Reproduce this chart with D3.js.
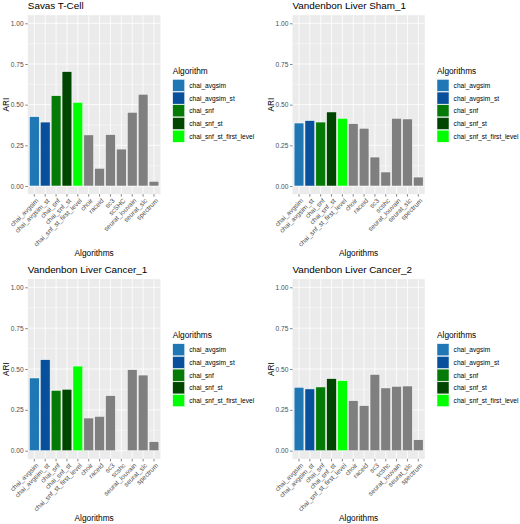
<!DOCTYPE html>
<html>
<head>
<meta charset="utf-8">
<script src="https://cdn.jsdelivr.net/npm/d3@7"></script>
<style>
  html, body { margin: 0; padding: 0; background: #fff; }
  svg { display: block; font-family: "Liberation Sans", Arial, Helvetica, sans-serif; }
</style>
</head>
<body>
<svg id="chart" width="520" height="524"></svg>
<script>
// ---------------- data ----------------
const categoriesSavas = ["chai_avgsim", "chai_avgsim_st", "chai_snf", "chai_snf_st", "chai_snf_st_first_level",
  "choir", "raceid", "sc3", "scSHC", "seurat_louvain", "seurat_slc", "spectrum"];
const categoriesVandenbon = ["chai_avgsim", "chai_avgsim_st", "chai_snf", "chai_snf_st", "chai_snf_st_first_level",
  "choir", "raceid", "sc3", "scshc", "seurat_louvain", "seurat_slc", "spectrum"];

const ariSavas    = [0.426, 0.393, 0.555, 0.703, 0.514, 0.314, 0.109, 0.316, 0.227, 0.453, 0.564, 0.029];
const ariSham1    = [0.387, 0.402, 0.393, 0.455, 0.416, 0.383, 0.355, 0.178, 0.086, 0.416, 0.412, 0.055];
const ariCancer1  = [0.445, 0.557, 0.369, 0.376, 0.518, 0.200, 0.210, 0.337, null,  0.496, 0.463, 0.055];
const ariCancer2  = [0.388, 0.378, 0.390, 0.441, 0.429, 0.306, 0.276, 0.467, 0.384, 0.394, 0.396, 0.067];

const panelTitles = ["Savas T-Cell", "Vandenbon Liver Sham_1", "Vandenbon Liver Cancer_1", "Vandenbon Liver Cancer_2"];
const legendTitles = ["Algorithm", "Algorithms", "Algorithms", "Algorithms"];
const legendKeys = ["chai_avgsim", "chai_avgsim_st", "chai_snf", "chai_snf_st", "chai_snf_st_first_level"];
const legendColors = ["#1f77b4", "#08509b", "#067a06", "#004600", "#00ff00"];
const otherColor = "#7f7f7f";
const yTicks = [0, 0.25, 0.5, 0.75, 1];
const yMinorTicks = [0.125, 0.375, 0.625, 0.875];
const xTitle = "Algorithms";
const yTitle = "ARI";

// ---------------- layout ----------------
const panels = [
  { cats: categoriesSavas,     vals: ariSavas,   left: 27.8,  right: 160.5, y0: 186.0, y1: 23.3 },
  { cats: categoriesVandenbon, vals: ariSham1,   left: 292.5, right: 424.8, y0: 186.0, y1: 23.3 },
  { cats: categoriesVandenbon, vals: ariCancer1, left: 27.8,  right: 160.5, y0: 450.7, y1: 287.3 },
  { cats: categoriesVandenbon, vals: ariCancer2, left: 292.5, right: 424.8, y0: 450.7, y1: 287.3 }
];

const svg = d3.select("#chart");
const colorScale = d3.scaleOrdinal().domain(legendKeys).range(legendColors).unknown(otherColor);

const axisTextSize = 6.6, titleSize = 8.3, plotTitleSize = 9.9;
const tickLen = 2.5;

panels.forEach((p, i) => {
  const span = p.y0 - p.y1;
  const top = p.y1 - 0.05 * span, bottom = p.y0 + 0.05 * span;
  const x = d3.scaleBand().domain(p.cats).range([p.left, p.right]).paddingInner(0.1).paddingOuter(0.15);
  const y = d3.scaleLinear().domain([-0.05, 1.05]).range([bottom, top]);
  const g = svg.append("g");

  // panel background
  g.append("rect").attr("x", p.left).attr("y", top).attr("width", p.right - p.left).attr("height", bottom - top)
    .attr("fill", "#ebebeb");
  // minor grid
  g.selectAll(".minor").data(yMinorTicks).join("line")
    .attr("x1", p.left).attr("x2", p.right).attr("y1", d => y(d)).attr("y2", d => y(d))
    .attr("stroke", "#fff").attr("stroke-width", 0.4);
  // major grid
  g.selectAll(".majorY").data(yTicks).join("line")
    .attr("x1", p.left).attr("x2", p.right).attr("y1", d => y(d)).attr("y2", d => y(d))
    .attr("stroke", "#fff").attr("stroke-width", 0.8);
  g.selectAll(".majorX").data(p.cats).join("line")
    .attr("x1", d => x(d) + x.bandwidth() / 2).attr("x2", d => x(d) + x.bandwidth() / 2)
    .attr("y1", top).attr("y2", bottom)
    .attr("stroke", "#fff").attr("stroke-width", 0.8);

  // bars
  const rows = p.cats.map((c, k) => ({ cat: c, v: p.vals[k] })).filter(d => d.v !== null);
  g.selectAll(".bar").data(rows).join("rect")
    .attr("x", d => x(d.cat)).attr("width", x.bandwidth())
    .attr("y", d => y(d.v)).attr("height", d => y(0) - y(d.v))
    .attr("fill", d => colorScale(d.cat))
    .attr("stroke", "#fff").attr("stroke-width", 0.5);

  // y axis
  const yAxis = d3.axisLeft(y).tickValues(yTicks).tickFormat(d3.format(".2f")).tickSize(tickLen).tickPadding(1.6);
  const ya = g.append("g").attr("transform", `translate(${p.left},0)`).call(yAxis);
  ya.select(".domain").remove();
  ya.selectAll(".tick line").attr("stroke", "#333").attr("stroke-width", 0.6);
  ya.selectAll(".tick text").attr("fill", "#4d4d4d").attr("font-size", axisTextSize).attr("font-family", null);

  // x axis
  const xAxis = d3.axisBottom(x).tickSize(tickLen).tickPadding(0);
  const xa = g.append("g").attr("transform", `translate(0,${bottom})`).call(xAxis);
  xa.select(".domain").remove();
  xa.selectAll(".tick line").attr("stroke", "#333").attr("stroke-width", 0.6);
  xa.selectAll(".tick text")
    .attr("fill", "#4d4d4d").attr("font-size", axisTextSize).attr("font-family", null)
    .attr("text-anchor", "end").attr("y", 0).attr("dy", "0.72em")
    .attr("transform", `translate(1.2,${tickLen + 1.2}) rotate(-45)`);

  // titles
  g.append("text").attr("x", p.left).attr("y", top - 5.7)
    .attr("font-size", plotTitleSize).attr("font-weight", "normal").attr("fill", "#000").text(panelTitles[i]);
  g.append("text").attr("x", (p.left + p.right) / 2).attr("y", bottom + 62.2)
    .attr("text-anchor", "middle").attr("font-size", titleSize).attr("fill", "#000").text(xTitle);
  g.append("text")
    .attr("transform", `translate(${p.left - 22},${(top + bottom) / 2}) rotate(-90)`)
    .attr("text-anchor", "middle").attr("dominant-baseline", "central")
    .attr("font-size", titleSize).attr("fill", "#000").text(yTitle);

  // legend
  const mid = (top + bottom) / 2;
  const lx = p.right + 12.2;
  const lg = g.append("g");
  lg.append("text").attr("x", lx).attr("y", mid - 33.6 + 3).attr("font-size", titleSize).attr("fill", "#000")
    .text(legendTitles[i]);
  const keyH = 12.7, keyTop = mid - 25.3;
  lg.selectAll(".key").data(legendKeys).join("rect")
    .attr("x", lx).attr("y", (d, k) => keyTop + k * keyH)
    .attr("width", 12).attr("height", keyH - 0.6)
    .attr("fill", d => colorScale(d)).attr("stroke", "#fff").attr("stroke-width", 0.5);
  lg.selectAll(".lab").data(legendKeys).join("text")
    .attr("x", lx + 16.6).attr("y", (d, k) => keyTop + k * keyH + keyH / 2 + 2.3)
    .attr("font-size", axisTextSize).attr("fill", "#000").text(d => d);
});
</script>
</body>
</html>
